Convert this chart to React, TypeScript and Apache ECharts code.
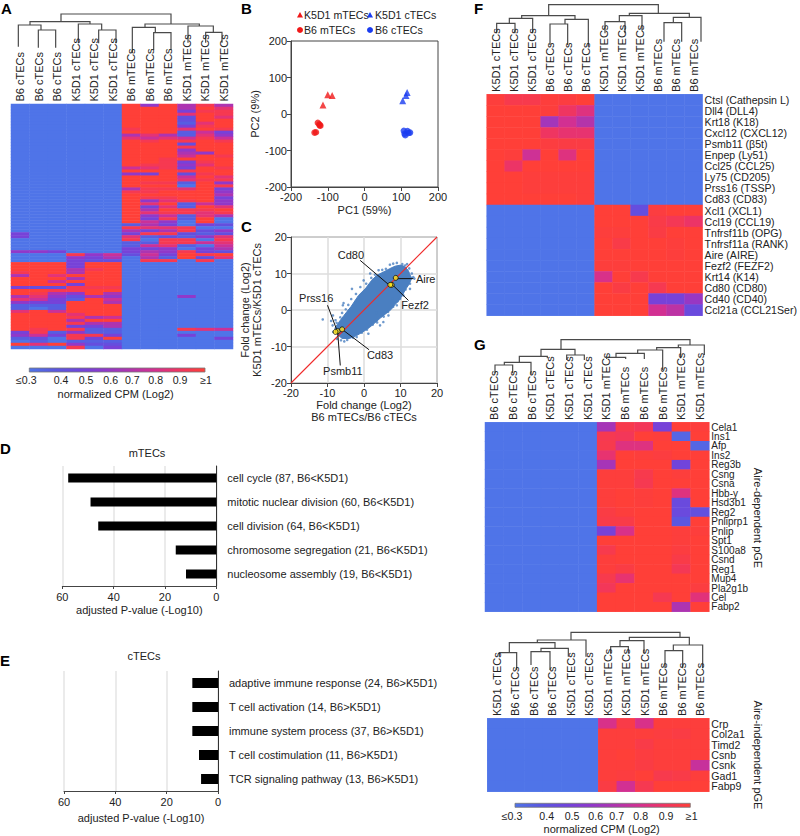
import React, { useEffect, useRef } from "react";
import * as echarts from "echarts";

const FONT = "'Liberation Sans', Arial, sans-serif";
const INK = "#222";

// ---- categories ----
const colsA = ["B6 cTECs","B6 cTECs","B6 cTECs","K5D1 cTECs","K5D1 cTECs","K5D1 cTECs","B6 mTECs","B6 mTECs","B6 mTECs","K5D1 mTECs","K5D1 mTECs","K5D1 mTECs"];
const colsF = ["K5D1 cTECs","K5D1 cTECs","K5D1 cTECs","B6 cTECs","B6 cTECs","B6 cTECs","K5D1 mTECs","K5D1 mTECs","K5D1 mTECs","B6 mTECs","B6 mTECs","B6 mTECs"];
const colsG1 = ["B6 cTECs","B6 cTECs","B6 cTECs","K5D1 cTECs","K5D1 cTECs","K5D1 cTECs","K5D1 mTECs","B6 mTECs","B6 mTECs","B6 mTECs","K5D1 mTECs","K5D1 mTECs"];
const colsG2 = ["K5D1 cTECs","B6 cTECs","B6 cTECs","B6 cTECs","K5D1 cTECs","K5D1 cTECs","K5D1 mTECs","K5D1 mTECs","K5D1 mTECs","B6 mTECs","B6 mTECs","B6 mTECs"];
const genesF = ["Ctsl (Cathepsin L)","Dll4 (DLL4)","Krt18 (K18)","Cxcl12 (CXCL12)","Psmb11 (β5t)","Enpep (Ly51)","Ccl25 (CCL25)","Ly75 (CD205)","Prss16 (TSSP)","Cd83 (CD83)","Xcl1 (XCL1)","Ccl19 (CCL19)","Tnfrsf11b (OPG)","Tnfrsf11a (RANK)","Aire (AIRE)","Fezf2 (FEZF2)","Krt14 (K14)","Cd80 (CD80)","Cd40 (CD40)","Ccl21a (CCL21Ser)"];
const genesG1 = ["Cela1","Ins1","Afp","Ins2","Reg3b","Csng","Csna","Hbb-y","Hsd3b1","Reg2","Pnliprp1","Pnlip","Spt1","S100a8","Csnd","Reg1","Mup4","Pla2g1b","Cel","Fabp2"];
const genesG2 = ["Crp","Col2a1","Timd2","Csnb","Csnk","Gad1","Fabp9"];
const termsD = ["cell cycle (87, B6<K5D1)","mitotic nuclear division (60, B6<K5D1)","cell division (64, B6<K5D1)","chromosome segregation (21, B6<K5D1)","nucleosome assembly (19, B6<K5D1)"];
const termsE = ["adaptive immune response (24, B6>K5D1)","T cell activation (14, B6>K5D1)","immune system process (37, B6>K5D1)","T cell costimulation (11, B6>K5D1)","TCR signaling pathway (13, B6>K5D1)"];

// ---- bar values ----
const valuesD = [57.7, 49, 46, 15.8, 11.8];
const valuesE = [10, 10, 10, 7.4, 6.6];

// ---- heat A, one digit per cell, 0 = 0.3 ... 9 = 0.98 ----
const digitLevels = [0.3, 0.38, 0.45, 0.52, 0.6, 0.68, 0.76, 0.84, 0.92, 0.98];
const heatA = [
"000000949585","000000999597","000000999388","000000999798","000000999297","000000999299",
"000000999179","000000999389","000000899798","000000999163","000000575174","000000767686",
"000000989898","000000999299","000000999899","000000999499","000000999549","000000999698",
"000000998999","000000998389","000000988479","000000678398","000000999899","000000439289",
"000000999697","000000999788","000000988194","000000999098","000000588793","000000889994",
"000000999995","000000988993","000000947894","000000979164","000000937197","000000959889",
"000000978878","000000946175","000000938190","000000964090","000000153032","000000877800",
"000000535824","300000388212","300000712147","000000808808","000000118867","000000167106",
"000000334035","443000354832","000846263989","000435051927","000322088080",
"999399000000","999399000000","999589000000","899599000000","597999000000","999599000000",
"996999000000","999399000000","322888000000","998899000000","985495000000","574254000400",
"763196000000","433995000000","111999000000","101999000000","796999000000","999799000000",
"999856000000","999599000000","999855000000","999335000000","989811000876","381411000000",
"463883000300","120839000003","010111000000","979422000000","000803000000",
];

// ---- heat F, one array per gene ----
const blank6 = [0.3, 0.3, 0.3, 0.3, 0.3, 0.3];
const heatF = [
[.97,.93,.93,.97,.96,1,...blank6],[.98,.98,.98,.97,.88,.82,...blank6],[.98,.98,.98,.65,.78,.7,...blank6],
[.98,.98,.98,.88,.85,.85,...blank6],[.98,.98,.98,.96,.95,.95,...blank6],[.98,.97,.77,.98,.82,.98,...blank6],
[.98,.87,.98,.98,.98,.98,...blank6],[.98,.98,.97,.97,.97,.97,...blank6],[.98,.98,.97,.97,.97,.97,...blank6],
[.98,.98,.99,.98,.98,.97,...blank6],
[...blank6,.98,.98,.45,.96,.99,.98],[...blank6,.98,.98,.98,.94,.91,.87],[...blank6,.97,.97,.98,.95,.98,.98],
[...blank6,.98,.94,.98,.98,.97,.98],[...blank6,.98,.98,.98,.98,.97,.98],[...blank6,.97,.97,.98,.98,.98,.98],
[...blank6,.8,.98,.93,.98,.98,.98],[...blank6,.98,.95,.98,.92,.98,.98],[...blank6,.98,.98,.98,.52,.52,.62],
[...blank6,.98,.98,.98,.78,.72,.47],
];
const heatG1 = [
[.66,.93,.9,.52,.98,.97],[.92,.9,.98,.97,.35,.98],[.93,.82,.82,.98,.98,.35],[.85,.98,.97,.96,.98,.98],
[.66,.98,.98,.98,.5,.98],[.97,.97,.93,.98,.97,.98],[.97,.97,.92,.98,.98,.98],[.97,.98,.97,.98,.82,.98],
[.97,.98,.97,.98,.47,.98],[.95,.97,.98,.98,.47,.44],[.94,.94,.98,.98,.4,.98],[.52,.8,.98,.98,.97,.97],
[.98,.98,.98,.98,.97,.98],[.93,.98,.98,.98,.96,.98],[.97,.98,.98,.98,.94,.98],[.97,.95,.98,.98,.91,.98],
[.93,.85,.98,.98,.98,.98],[.9,.98,.98,.98,.98,.96],[.98,.98,.98,.92,.98,.83],[.98,.98,.98,.98,.68,.98],
].map((r) => [...blank6, ...r]);
const heatG2 = [
[.8,.94,.8,.97,.97,.97],[.97,.97,.97,.96,.95,.97],[.97,.97,.94,.97,.97,.97],[.97,.98,.96,.97,.97,.97],
[.97,.97,.95,.97,.97,.75],[.97,.96,.98,.93,.94,.97],[.95,.78,.92,.98,.98,.98],
].map((r) => [...blank6, ...r]);

// ---- B: PCA points ----
const pcaK5mTEC = [[-113, 25], [-100, 53], [-88, 51]];
const pcaK5cTEC = [[104, 36], [113, 51], [116, 59]];
const pcaB6mTEC = [[-127, -24], [-122, -31], [-120, -32], [-136, -51], [-132, -50], [-123, -28]];
const pcaB6cTEC = [[107, -46], [109, -54], [111, -58], [117, -47], [120, -52], [124, -51]];

// ---- C: fold change ----
const cloudOutline = [[-7.5,-6.5],[-8,-5],[-7,-3.5],[-5.5,-1.5],[-3.5,1],[-1.5,4],[0.5,6],[2,8],[3.5,9.5],[5.5,10.5],[7,11.3],[8.5,12],[10,12.3],[11,12],[12,11],[12.5,10],[13,8.5],[12.3,7],[11.3,5.5],[10.5,4],[9.5,2.5],[8.5,1.5],[7.5,0.2],[6,-1],[4.5,-2.2],[3,-3.5],[1.5,-4.8],[0,-5.8],[-2,-7],[-4,-7.8],[-6,-7.8]];
const cloudStrays = [[-11.3,-2.6],[-9,-3],[-8.5,-1.5],[-3.3,5.8],[-5.6,1.9],[-5.8,1.3],[-6.5,-2],[-7.5,-3.5],[-2.4,-6.5],[-2,-7.4],[-6.3,-8.3],[-7.4,-7.9],[1.2,-6.5],[4.4,-4.2],[5.3,-3.3],[6.7,-1.5],[9,1.3],[9.9,3.1],[12.6,5.8],[13,8.8],[13.5,9],[11.3,12.2],[7.1,12.4],[8,12.7],[4,10.9],[1.7,10],[-0.1,8.1],[-1,6.3],[-2.2,4.4],[-3.5,3],[-4.3,1.4],[-5,0.2],[-6,-0.8],[0.6,7.2],[2,8.8],[3,9.7],[5,11],[6,11.3],[9,12.9],[10.5,12.6],[12.4,11.4],[13.1,10],[13.8,8.6],[12.6,7.2],[11.4,5.6],[10.8,4],[9.2,2.4],[8,0.9],[6.6,-0.5],[5.4,-1.8],[3.6,-3.4],[2.4,-4],[0.8,-5.4],[-0.6,-6.2],[-3,-7.6],[-4.6,-8.2],[-5.4,-8.6],[-8.4,-6],[-8.6,-4.2],[-7.8,-2.8],[-4.2,-0.2],[-2.4,2.2],[11.8,12.6],[7.8,3.2],[3.4,-0.8]];
const diagonal = [[-20, -20, 20, 20]];
const highlighted = [[8.7, 8.8], [7.6, 6.9], [7.2, 6.9], [-7.2, -5.8], [-7.8, -6], [-6, -5.3]];
const calloutNames = ["Cd80", "Aire", "Fezf2", "Prss16", "Psmb11", "Cd83"];
const calloutLines = [[-1.05,13.6,6.7,7],[9,8.6,13.5,8.6],[7.9,6.8,12.2,2.6],[-10,1.3,-7.4,-5.6],[-7.2,-6.3,-6.5,-15.2],[-5.6,-5.6,1.4,-10.9]];
const calloutTexts = [[-3.6,15],[16.9,8.4],[14,1.3],[-13.1,3.4],[-5.8,-16.8],[4.4,-12.4]];

// ---- dendrograms: [x left, y left foot, x right, y right foot, y of the join], page units ----
const t = (ox: number, oy: number, rows: number[][]) =>
  rows.map(([a, b, c, d, e]) => [ox + a / 3, oy + b / 3, ox + c / 3, oy + d / 3, oy + e / 3]);
const dendroA = t(0, 0, [[115,143,167,143,90],[55,140,123,90,75],[296,130,348,130,90],[235,130,305,90,72],[90,75,270,72,65],[461,150,513,150,98],[397,160,466,98,82],[617,128,666,128,97],[564,128,640,97,78],[435,82,598,78,72],[183,65,513,72,42]]);
const dendroF = t(460, 0, [[110,100,165,100,70],[148,70,218,100,55],[270,135,323,135,72],[315,72,385,140,58],[185,55,345,58,47],[435,100,495,100,65],[478,65,546,92,47],[612,125,665,125,68],[640,68,723,125,52],[508,47,688,52,40],[266,47,595,40,14]]);
const dendroG1 = t(460, 335, [[105,115,158,115,90],[133,90,213,118,82],[178,82,262,70,64],[320,75,373,75,60],[243,64,345,60,43],[440,72,497,72,67],[468,67,553,72,55],[533,55,608,105,45],[590,45,662,70,38],[655,38,733,60,30],[303,43,690,30,14]]);
const dendroG2 = t(460, 610, [[118,140,170,180,128],[213,165,270,180,125],[243,125,325,140,115],[148,128,285,115,98],[232,98,378,140,90],[452,130,505,130,110],[480,110,552,130,92],[615,175,668,175,122],[640,122,728,175,105],[508,92,688,105,82],[333,90,660,82,67]]);

// ---- colour scale ----
const scaleColors = ["#4F74E8","#5A58E0","#6F45DC","#8E38CC","#B034AE","#D43090","#F03560","#FF3F38"];
const scaleTicks = ["≤0.3","0.4","0.5","0.6","0.7","0.8","0.9","≥1"];
const scaleTickXA = [26.3,61,86,110.7,132.3,155.7,180,206];
const scaleTickXG = [512,546.7,572,595.7,616.7,640.7,666,691.7];

const textEl = (text: string, x: number, y: number, size = 11, extra: any = {}, rotation = 0, weight = "normal") => ({
  type: "text", x, y, rotation, z: 50,
  style: { text, fill: INK, font: `${weight} ${size}px ${FONT}`, textAlign: "center", textVerticalAlign: "middle", ...extra },
});
const panelLetter = (text: string, x: number, y: number) =>
  ({ type: "text", x, y, z: 50, style: { text, fill: "#000", font: `bold 15px ${FONT}`, textAlign: "left", textVerticalAlign: "middle" } });
const scaleBar = (x: number, y: number, w: number, h: number) => ({
  type: "rect", z: 50, shape: { x, y, width: w, height: h },
  style: { stroke: "#777", lineWidth: 0.8, fill: new echarts.graphic.LinearGradient(0, 0, 1, 0, scaleColors.map((color, i) => ({ offset: i / 7, color }))) },
});
const triangle = (cx: number, cy: number, fill: string) => ({
  type: "polygon", z: 50, shape: { points: [[cx - 3, cy + 2.5], [cx + 3, cy + 2.5], [cx, cy - 3]] }, style: { fill },
});
const dot = (cx: number, cy: number, fill: string) => ({ type: "circle", z: 50, shape: { cx, cy, r: 3 }, style: { fill } });
const left = (text: string, x: number, y: number) => textEl(text, x, y, 10.6, { textAlign: "left" });

function dendroSeries(rows: number[][]) {
  return {
    type: "custom", xAxisIndex: 0, yAxisIndex: 0, silent: true, clip: false, data: rows,
    encode: { x: 0, y: 1 },
    renderItem: (_: any, api: any) => {
      const [a, b, c, d, e] = [0, 1, 2, 3, 4].map((i) => api.value(i));
      const p = [api.coord([a, b]), api.coord([a, e]), api.coord([c, e]), api.coord([c, d])];
      return { type: "polyline", shape: { points: p }, style: { fill: "none", stroke: "#4a4a4a", lineWidth: 1.2 } };
    },
  };
}
const heatCells = (rows: number[][]) => rows.flatMap((r, y) => r.map((v, x) => [x, y, v]));
const heatSeries = (i: number, rows: number[][]) => ({
  type: "heatmap", xAxisIndex: i, yAxisIndex: i, data: heatCells(rows), silent: true, itemStyle: { borderWidth: 0 },
});
// Sample names sit above each column.
const columnLabels = (i: number, cols: string[], gridTop: number) => ({
  type: "custom", xAxisIndex: i, yAxisIndex: i, silent: true, clip: false, z: 20,
  data: cols.map((_, c) => [c, 0]),
  renderItem: (params: any, api: any) => {
    const x = api.coord([api.value(0), 0])[0];
    return {
      type: "text", x, y: gridTop - 2.4, rotation: Math.PI / 2,
      style: { text: cols[params.dataIndex], fill: INK, font: `11px ${FONT}`, textAlign: "left", textVerticalAlign: "middle" },
    };
  },
});
const heatX = (gridIndex: number, data: string[]) => ({
  type: "category", gridIndex, data, position: "top", axisLine: { show: false }, axisTick: { show: false }, splitLine: { show: false }, splitArea: { show: false },
  axisLabel: { show: false },
});
const heatY = (gridIndex: number, data: string[], show: boolean, fontSize = 10.6) => ({
  type: "category", gridIndex, data, inverse: true, position: "right", show, axisLine: { show: false }, axisTick: { show: false }, splitLine: { show: false }, splitArea: { show: false },
  axisLabel: { interval: 0, margin: 2, color: INK, fontSize, fontFamily: FONT },
});
const labelStyle = { color: INK, fontSize: 11, fontFamily: FONT };
const frameAxis = (gridIndex: number, min: number, max: number, interval: number, name: string, nameGap: number, grid: boolean) => ({
  type: "value", gridIndex, min, max, interval, name, nameLocation: "middle", nameGap,
  nameTextStyle: { ...labelStyle, lineHeight: 12 },
  axisLine: { show: true, onZero: false, lineStyle: { color: "#444" } },
  axisTick: { show: true, length: 4, lineStyle: { color: "#444" } },
  axisLabel: { ...labelStyle, margin: 4 },
  splitLine: { show: grid, lineStyle: { color: "#dcdcdc", width: 1.5 } },
});
const barX = (gridIndex: number, nameGap: number) => ({
  type: "value", gridIndex, min: 0, max: 60, interval: 20, inverse: true, name: "adjusted P-value (-Log10)", nameLocation: "middle", nameGap,
  nameTextStyle: labelStyle,
  axisLine: { show: true, onZero: false, lineStyle: { color: "#444" } }, axisTick: { show: true, length: 3, lineStyle: { color: "#444" } },
  axisLabel: { ...labelStyle, margin: 5 }, splitLine: { show: true, lineStyle: { color: "#e4e4e4", width: 1.5 } },
});
const barY = (gridIndex: number, data: string[]) => ({
  type: "category", gridIndex, data, inverse: true, position: "right",
  axisLine: { show: true, onZero: false, lineStyle: { color: "#333" } }, axisTick: { show: false }, axisLabel: { ...labelStyle, margin: 11 },
});
const scatter = (name: string, i: number, data: number[][], symbol: string, color: string, size: number) => ({
  type: "scatter", name, xAxisIndex: i, yAxisIndex: i, data, symbol, symbolSize: size, itemStyle: { color }, silent: true,
});

export default function App() {
  const ref = useRef<HTMLDivElement>(null);
  useEffect(() => {
    const chart = echarts.init(ref.current!, null, { renderer: "svg" });
    const digitsToRows = heatA.map((s) => s.split("").map((c) => digitLevels[Number(c)]));
    const heatmaps = [heatSeries(1, digitsToRows), heatSeries(6, heatF), heatSeries(7, heatG1), heatSeries(8, heatG2)];
    chart.setOption({
      animation: false,
      backgroundColor: "#fff",
      textStyle: { fontFamily: FONT },
      grid: [
        { left: 0, top: 0, width: 800, height: 836 },
        { left: 11, top: 104, width: 222, height: 245 },
        { left: 291, top: 41, width: 147, height: 146, show: true, borderColor: "#444", borderWidth: 1, backgroundColor: "transparent" },
        { left: 291, top: 237, width: 146, height: 146, show: true, borderColor: "#444", borderWidth: 1, backgroundColor: "transparent" },
        { left: 62.3, top: 466, width: 154, height: 120 },
        { left: 64, top: 671, width: 154, height: 120 },
        { left: 486.7, top: 94.3, width: 222, height: 221.4 },
        { left: 485, top: 422.3, width: 224.3, height: 189.4 },
        { left: 487.3, top: 718.3, width: 222, height: 73.4 },
      ],
      xAxis: [
        { type: "value", gridIndex: 0, min: 0, max: 800, show: false },
        heatX(1, colsA),
        frameAxis(2, -200, 200, 100, "PC1 (59%)", 17, false),
        frameAxis(3, -20, 20, 10, "Fold change (Log2)\nB6 mTECs/B6 cTECs", 13, true),
        barX(4, 18),
        barX(5, 21),
        heatX(6, colsF),
        heatX(7, colsG1),
        heatX(8, colsG2),
      ],
      yAxis: [
        { type: "value", gridIndex: 0, min: 0, max: 836, inverse: true, show: false },
        heatY(1, heatA.map((_, i) => String(i)), false),
        frameAxis(2, -200, 200, 100, "PC2 (9%)", 27, false),
        frameAxis(3, -20, 20, 10, "Fold change (Log2)\nK5D1 mTECs/K5D1 cTECs", 28, true),
        barY(4, termsD),
        barY(5, termsE),
        heatY(6, genesF, true),
        heatY(7, genesG1, true, 10),
        heatY(8, genesG2, true),
      ],
      visualMap: {
        show: false, type: "continuous", min: 0.3, max: 0.98, dimension: 2, seriesIndex: [0, 1, 2, 3],
        inRange: { color: scaleColors },
      },
      series: [
        ...heatmaps,
        columnLabels(1, colsA, 104),
        columnLabels(6, colsF, 94.3),
        columnLabels(7, colsG1, 422.3),
        columnLabels(8, colsG2, 718.3),
        dendroSeries(dendroA), dendroSeries(dendroF), dendroSeries(dendroG1), dendroSeries(dendroG2),
        scatter("K5D1 mTECs", 2, pcaK5mTEC, "triangle", "#F01818", 7),
        scatter("K5D1 cTECs", 2, pcaK5cTEC, "triangle", "#1A3CF0", 7),
        scatter("B6 mTECs", 2, pcaB6mTEC, "circle", "#F01818", 6.5),
        scatter("B6 cTECs", 2, pcaB6cTEC, "circle", "#1A3CF0", 6.5),
        {
          type: "custom", xAxisIndex: 3, yAxisIndex: 3, silent: true, data: [[0, 0]], z: 2,
          renderItem: (_: any, api: any) => ({
            type: "polygon", shape: { points: cloudOutline.map((p) => api.coord(p)) }, style: { fill: "#4A7FC1", stroke: "#4A7FC1", lineWidth: 1 },
          }),
        },
        { ...scatter("strays", 3, cloudStrays, "circle", "#4A7FC1", 2.6), z: 2 },
        {
          type: "custom", xAxisIndex: 3, yAxisIndex: 3, silent: true, z: 3, clip: false, data: diagonal,
          renderItem: (_: any, api: any) => {
            const a = api.coord([api.value(0), api.value(1)]);
            const b = api.coord([api.value(2), api.value(3)]);
            return { type: "line", shape: { x1: a[0], y1: a[1], x2: b[0], y2: b[1] }, style: { stroke: "#F02A2A", lineWidth: 1.1 } };
          },
        },
        {
          type: "custom", xAxisIndex: 3, yAxisIndex: 3, silent: true, z: 4, clip: false, data: calloutLines,
          renderItem: (params: any, api: any) => {
            const i = params.dataIndex;
            const a = api.coord([api.value(0), api.value(1)]);
            const b = api.coord([api.value(2), api.value(3)]);
            const c = api.coord(calloutTexts[i]);
            return {
              type: "group",
              children: [
                { type: "line", shape: { x1: a[0], y1: a[1], x2: b[0], y2: b[1] }, style: { stroke: "#111", lineWidth: 1 } },
                { type: "text", x: c[0], y: c[1], style: { text: calloutNames[i], fill: INK, font: `11px ${FONT}`, textAlign: "center", textVerticalAlign: "middle" } },
              ],
            };
          },
        },
        { ...scatter("genes", 3, highlighted, "circle", "#FFE31A", 5), z: 5, itemStyle: { color: "#FFE31A", borderColor: "#111", borderWidth: 1 } },
        { type: "bar", xAxisIndex: 4, yAxisIndex: 4, data: valuesD, barWidth: 9, silent: true, itemStyle: { color: "#000" } },
        { type: "bar", xAxisIndex: 5, yAxisIndex: 5, data: valuesE, barWidth: 10, silent: true, itemStyle: { color: "#000" } },
      ],
      graphic: [
        panelLetter("A", 1, 8), panelLetter("B", 241, 8), panelLetter("C", 241, 226), panelLetter("D", 0, 448),
        panelLetter("E", 0, 660), panelLetter("F", 474, 8), panelLetter("G", 474, 344),
        triangle(300, 15, "#F01818"), left("K5D1 mTECs", 304, 15),
        triangle(370, 15, "#1A3CF0"), left("K5D1 cTECs", 375, 15),
        dot(300, 30, "#F01818"), left("B6 mTECs", 304, 30),
        dot(370, 30, "#1A3CF0"), left("B6 cTECs", 375, 30),
        textEl("mTECs", 147, 452.7), textEl("cTECs", 144, 655.7),
        textEl("Aire-dependent pGE", 757.7, 518, 11, {}, -Math.PI / 2),
        textEl("Aire-independent pGE", 757.7, 755, 11, {}, -Math.PI / 2),
        scaleBar(29.3, 368, 175.7, 4),
        scaleBar(515, 803.3, 175.3, 4),
        ...scaleTicks.map((s, i) => textEl(s, scaleTickXA[i], 380, 10.6)),
        ...scaleTicks.map((s, i) => textEl(s, scaleTickXG[i], 816, 10.6)),
        textEl("normalized CPM (Log2)", 115.7, 394, 11),
        textEl("normalized CPM (Log2)", 601.7, 829, 11),
      ],
    });
    return () => chart.dispose();
  }, []);
  return <div ref={ref} style={{ position: "absolute", left: 0, top: 0, width: 800, height: 836 }} />;
}
